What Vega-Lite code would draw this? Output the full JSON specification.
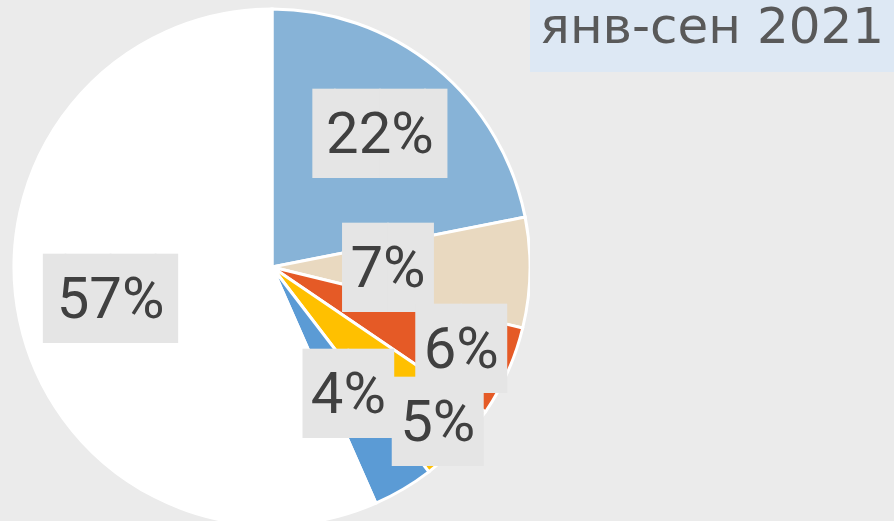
{
  "$schema": "https://vega.github.io/schema/vega-lite/v6.json",
  "background": "#ebebeb",
  "padding": 0,
  "spacing": 0,
  "config": {"view": {"stroke": null}},
  "hconcat": [
    {
      "width": 530,
      "height": 521,
      "data": {"values": [
        {"cat": "s1", "order": 1, "value": 0.219},
        {"cat": "s2", "order": 2, "value": 0.069},
        {"cat": "s3", "order": 3, "value": 0.057},
        {"cat": "s4", "order": 4, "value": 0.051},
        {"cat": "s5", "order": 5, "value": 0.038},
        {"cat": "s6", "order": 6, "value": 0.566}
      ]},
      "encoding": {
        "theta": {"field": "value", "type": "quantitative", "stack": true},
        "order": {"field": "order", "type": "quantitative"}
      },
      "layer": [
        {
          "mark": {"type": "arc", "outerRadius": 258, "stroke": "#ffffff", "strokeWidth": 3, "clip": true, "xOffset": 7, "yOffset": 6.5},
          "encoding": {
            "color": {"field": "cat", "type": "nominal", "legend": null,
              "scale": {"domain": ["s1", "s2", "s3", "s4", "s5", "s6"],
                        "range": ["#87b3d7", "#e9d9c0", "#e55a26", "#ffc000", "#5b9bd5", "#ffffff"]}}
          }
        },
        {
          "mark": {"type": "text", "font": "DejaVu Sans Mono", "fontSize": 75, "color": "#e5e5e5", "xOffset": 7, "yOffset": 6.5},
          "encoding": {
            "radius": {"field": "value", "type": "quantitative",
              "scale": {"type": "linear", "zero": false, "domain": [0.038, 0.051, 0.057, 0.069, 0.219, 0.566], "range": [150, 228, 207, 116, 170, 165]}},
            "text": {"condition": {"test": "datum.value > 0.1", "value": "▐██▌"}, "value": "██"}
          }
        },
        {
          "mark": {"type": "text", "font": "Roboto", "fontSize": 58, "color": "#404040", "xOffset": 7, "yOffset": 6.5},
          "encoding": {
            "radius": {"field": "value", "type": "quantitative",
              "scale": {"type": "linear", "zero": false, "domain": [0.038, 0.051, 0.057, 0.069, 0.219, 0.566], "range": [150, 228, 207, 116, 170, 165]}},
            "text": {"field": "value", "type": "quantitative", "format": ".0%"}
          }
        }
      ]
    },
    {
      "width": 364,
      "height": 72,
      "view": {"fill": "#dde8f4", "stroke": null},
      "data": {"values": [{"label": "янв-сен 2021"}]},
      "mark": {"type": "text", "font": "DejaVu Sans", "fontSize": 50, "color": "#595959", "dy": -8},
      "encoding": {"text": {"field": "label", "type": "nominal"}}
    }
  ]
}
